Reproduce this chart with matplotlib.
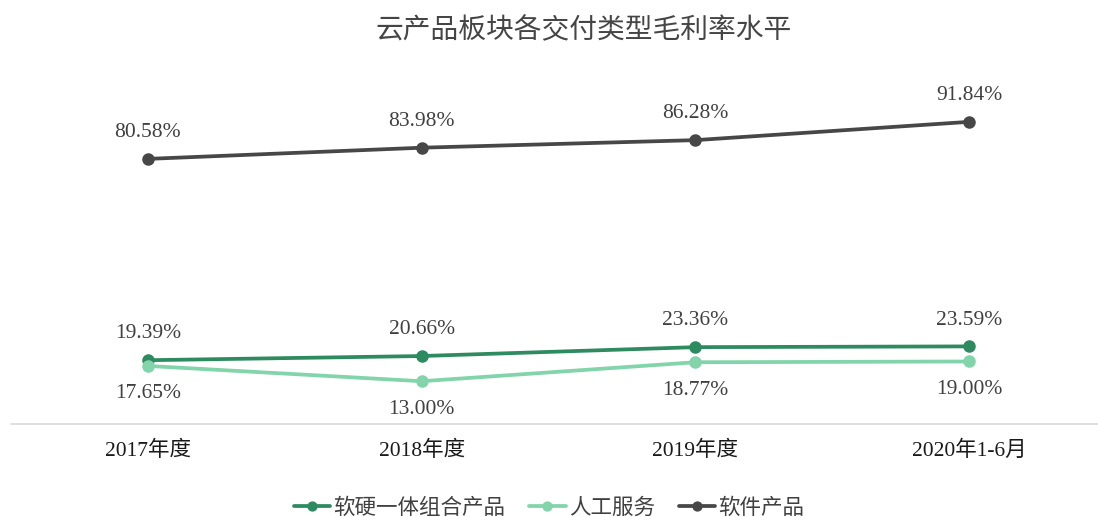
import matplotlib.pyplot as plt

plt.rcParams['font.family'] = ['Liberation Serif', 'Noto Sans CJK SC']

periods = ["2017年度", "2018年度", "2019年度", "2020年1-6月"]
combo = [19.39, 20.66, 23.36, 23.59]
service = [17.65, 13.00, 18.77, 19.00]
software = [80.58, 83.98, 86.28, 91.84]

series = [
    ("软硬一体组合产品", combo, "#2e8b5f", 19),
    ("人工服务", service, "#82d4ab", -20),
    ("软件产品", software, "#474747", 19),
]

fig = plt.figure(figsize=(10.98, 5.17), dpi=100)
ax = fig.add_axes([11 / 1098, 93 / 517, 1095 / 1098, 329 / 517])
x = range(len(periods))

for name, vals, color, dy in series:
    ax.plot(x, vals, color=color, lw=2.7, marker="o", ms=8, label=name,
            solid_capstyle="round")
    for xi, v in zip(x, vals):
        ax.annotate(f"{v:.2f}%", (xi, v), xytext=(0, dy), textcoords="offset points",
                    ha="center", va="center", fontsize=15.5, color="#404040")

ax.set_xlim(-0.5, 3.5)
ax.set_ylim(0, 100)
ax.set_yticks([])
ax.set_xticks(list(x))
ax.set_xticklabels(periods, fontsize=15.5, color="#1a1a1a")
ax.tick_params(axis="x", length=0, pad=12)
for s in ["top", "right", "left"]:
    ax.spines[s].set_visible(False)
ax.spines["bottom"].set_color("#d9d9d9")
ax.spines["bottom"].set_linewidth(1.2)

fig.text(584 / 1098, 1 - 30 / 517, "云产品板块各交付类型毛利率水平", ha="center", va="center",
         fontsize=20, color="#454545", family=["Noto Sans CJK SC"])

fig.legend(loc="center", bbox_to_anchor=(0.5, 1 - 508 / 517), ncol=3, frameon=False,
           prop={"family": ["Noto Sans CJK SC"], "size": 15.5}, handlelength=1.7,
           markerscale=0.8, columnspacing=1.1, handletextpad=0.15,
           labelcolor="#404040")

fig.savefig("out.png", dpi=100)
